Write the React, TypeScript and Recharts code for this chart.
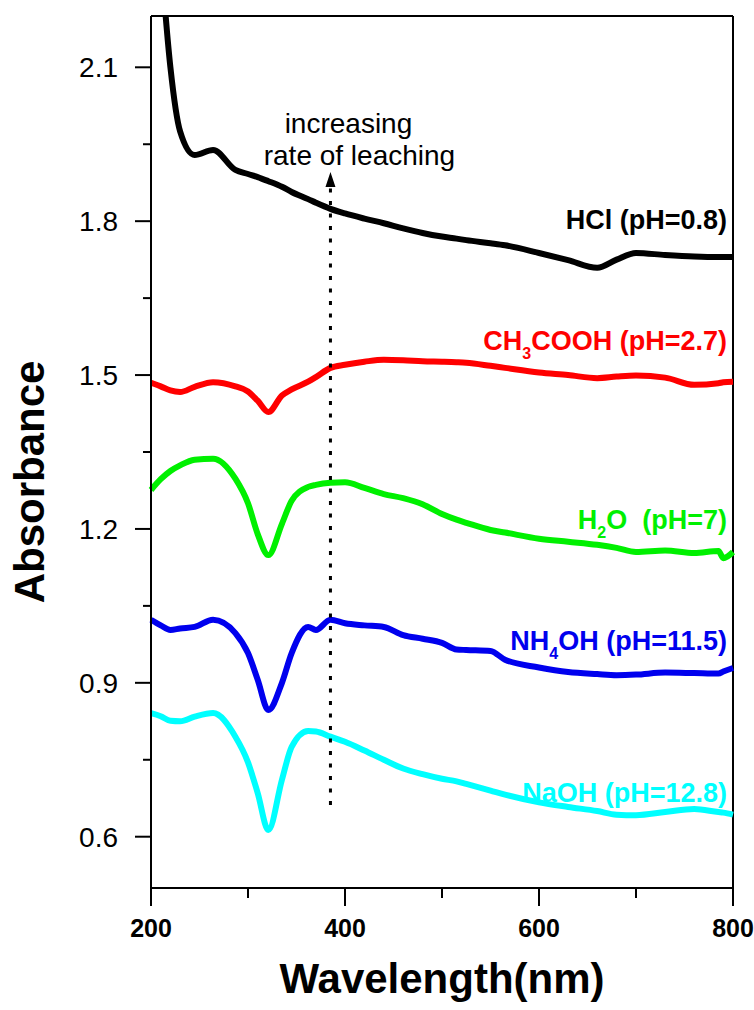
import { LineChart, Line, XAxis, YAxis, ReferenceLine, ReferenceDot, Label } from 'recharts';

const wavelength = [200, 210, 220, 230, 245, 264, 287, 300, 310, 321, 335, 345, 362, 370, 385, 400, 420, 440, 460, 480, 500, 515, 525, 550, 565, 600, 630, 660, 680, 700, 730, 760, 785, 790, 800];

const hcl = [null, 2.32, 2.1, 1.975, 1.929, 1.939, 1.9, 1.892, 1.886, 1.878, 1.867, 1.857, 1.843, 1.836, 1.824, 1.815, 1.805, 1.796, 1.786, 1.777, 1.77, 1.766, 1.763, 1.757, 1.753, 1.738, 1.724, 1.709, 1.725, 1.738, 1.734, 1.731, 1.73, 1.73, 1.73];
const ch3cooh = [1.485, 1.478, 1.47, 1.467, 1.477, 1.486, 1.478, 1.468, 1.45, 1.428, 1.46, 1.472, 1.487, 1.496, 1.514, 1.52, 1.526, 1.53, 1.529, 1.527, 1.526, 1.525, 1.524, 1.518, 1.514, 1.505, 1.5, 1.494, 1.497, 1.499, 1.495, 1.481, 1.484, 1.486, 1.487];
const h2o = [1.276, 1.297, 1.313, 1.324, 1.335, 1.337, 1.298, 1.25, 1.19, 1.149, 1.21, 1.255, 1.282, 1.286, 1.29, 1.291, 1.28, 1.268, 1.26, 1.248, 1.229, 1.218, 1.212, 1.198, 1.193, 1.181, 1.175, 1.169, 1.163, 1.155, 1.158, 1.153, 1.157, 1.143, 1.155];
const nh4oh = [1.023, 1.012, 1.003, 1.006, 1.009, 1.023, 0.997, 0.958, 0.906, 0.847, 0.9, 0.958, 1.009, 1.003, 1.023, 1.016, 1.012, 1.009, 0.993, 0.986, 0.978, 0.965, 0.964, 0.962, 0.945, 0.93, 0.921, 0.917, 0.915, 0.916, 0.92, 0.919, 0.918, 0.922, 0.929];
const naoh = [0.841, 0.835, 0.826, 0.825, 0.834, 0.841, 0.795, 0.745, 0.685, 0.613, 0.711, 0.775, 0.806, 0.805, 0.795, 0.785, 0.768, 0.75, 0.733, 0.722, 0.713, 0.708, 0.703, 0.69, 0.682, 0.667, 0.658, 0.65, 0.643, 0.642, 0.648, 0.654, 0.648, 0.647, 0.643];

const xTicks = [200, 300, 400, 500, 600, 700, 800];
const yTicks = [0.6, 0.75, 0.9, 1.05, 1.2, 1.35, 1.5, 1.65, 1.8, 1.95, 2.1];

const font = 'Liberation Sans, Arial, sans-serif';

const data = wavelength.map((w, i) => ({
    w,
    hcl: hcl[i],
    ch3cooh: ch3cooh[i],
    h2o: h2o[i],
    nh4oh: nh4oh[i],
    naoh: naoh[i],
}));

// series label text (anchored on the right end of the plot)
const labels = [
    { y: 1.785, color: '#000000', parts: [['HCl (pH=0.8)', false]] },
    { y: 1.549, color: '#ff0000', parts: [['CH', false], ['3', true], ['COOH (pH=2.7)', false]] },
    { y: 1.2, color: '#00f000', parts: [['H', false], ['2', true], ['O\u00a0\u00a0(pH=7)', false]] },
    { y: 0.964, color: '#0000ee', parts: [['NH', false], ['4', true], ['OH (pH=11.5)', false]] },
    { y: 0.668, color: '#00ffff', parts: [['NaOH (pH=12.8)', false]] },
];

const XTick = (props: any) => {
    const { x, y, payload } = props;
    const major = payload.value % 200 === 0;
    return (
        <g>
            <line x1={x} x2={x} y1={y} y2={y + (major ? 18 : 10)} stroke="#000" strokeWidth={2} />
            {major && (
                <text x={x} y={y + 49} textAnchor="middle" fontFamily={font} fontWeight="bold" fontSize={25} fill="#000">
                    {payload.value}
                </text>
            )}
        </g>
    );
};

const YTick = (props: any) => {
    const { x, y, payload } = props;
    const major = Math.round(payload.value * 100) % 30 === 0;
    return (
        <g>
            <line x1={x - (major ? 16 : 8)} x2={x} y1={y} y2={y} stroke="#000" strokeWidth={2} />
            {major && (
                <text x={x - 33} y={y + 10} textAnchor="end" fontFamily={font} fontSize={28} fill="#000">
                    {payload.value.toFixed(1)}
                </text>
            )}
        </g>
    );
};

export default function App() {
    return (
        <div style={{ position: 'absolute', left: 0, top: 0, width: 754, height: 1010, background: '#fff' }}>
            <LineChart width={754} height={1010} data={data} margin={{ top: 16, right: 21, left: 0, bottom: 42 }}>
                <XAxis
                    dataKey="w"
                    type="number"
                    domain={[200, 800]}
                    ticks={xTicks}
                    height={80}
                    tickSize={0}
                    tickMargin={0}
                    tickLine={false}
                    tick={<XTick />}
                    axisLine={{ stroke: '#000', strokeWidth: 2 }}
                >
                    <Label
                        content={(p: any) => (
                            <text
                                x={p.viewBox.x + p.viewBox.width / 2}
                                y={p.viewBox.y + 105}
                                textAnchor="middle"
                                fontFamily={font}
                                fontWeight="bold"
                                fontSize={42}
                                fill="#000"
                            >
                                Wavelength(nm)
                            </text>
                        )}
                    />
                </XAxis>
                <YAxis
                    type="number"
                    domain={[0.5, 2.2]}
                    allowDataOverflow
                    ticks={yTicks}
                    width={151}
                    tickSize={0}
                    tickMargin={0}
                    tickLine={false}
                    tick={<YTick />}
                    axisLine={{ stroke: '#000', strokeWidth: 2 }}
                >
                    <Label
                        content={() => (
                            <text
                                x={29}
                                y={482}
                                transform="rotate(-90 29 482)"
                                textAnchor="middle"
                                dominantBaseline="central"
                                fontFamily={font}
                                fontWeight="bold"
                                fontSize={42}
                                fill="#000"
                            >
                                Absorbance
                            </text>
                        )}
                    />
                </YAxis>

                {/* frame: top and right edges */}
                <ReferenceLine y={2.2} stroke="#000" strokeWidth={2} ifOverflow="visible" />
                <ReferenceLine x={800} stroke="#000" strokeWidth={2} ifOverflow="visible" />

                <Line dataKey="hcl" type="monotone" stroke="#000000" strokeWidth={6} dot={false} isAnimationActive={false} />
                <Line dataKey="ch3cooh" type="monotone" stroke="#ff0000" strokeWidth={6} dot={false} isAnimationActive={false} />
                <Line dataKey="h2o" type="monotone" stroke="#00f000" strokeWidth={6} dot={false} isAnimationActive={false} />
                <Line dataKey="nh4oh" type="monotone" stroke="#0000ee" strokeWidth={6} dot={false} isAnimationActive={false} />
                <Line dataKey="naoh" type="monotone" stroke="#00ffff" strokeWidth={6} dot={false} isAnimationActive={false} />

                <ReferenceLine
                    segment={[{ x: 385, y: 0.662 }, { x: 385, y: 1.868 }]}
                    stroke="#000"
                    strokeWidth={3}
                    strokeDasharray="4 8.5"
                />
                <ReferenceDot
                    x={385}
                    y={1.896}
                    r={0}
                    shape={(p: any) => (
                        <g>
                            <polygon points={`${p.cx},${p.cy} ${p.cx - 5},${p.cy + 15} ${p.cx + 5},${p.cy + 15}`} fill="#000" />
                            <text x={p.cx + 18} y={p.cy - 39} textAnchor="middle" fontFamily={font} fontSize={28} fill="#000">
                                increasing
                            </text>
                            <text x={p.cx + 29} y={p.cy - 7} textAnchor="middle" fontFamily={font} fontSize={28} fill="#000">
                                rate of leaching
                            </text>
                        </g>
                    )}
                />
                {labels.map((l, i) => (
                    <ReferenceDot
                        key={i}
                        x={800}
                        y={l.y}
                        r={0}
                        shape={(p: any) => (
                            <text x={p.cx - 6} y={p.cy} textAnchor="end" fontFamily={font} fontWeight="bold" fontSize={27} fill={l.color}>
                                {l.parts.map(([t, sub], j) =>
                                    sub ? (
                                        <tspan key={j} dy={9} fontSize={16}>{t}</tspan>
                                    ) : (
                                        <tspan key={j} dy={j > 0 ? -9 : 0}>{t}</tspan>
                                    )
                                )}
                            </text>
                        )}
                    />
                ))}
            </LineChart>
        </div>
    );
}
